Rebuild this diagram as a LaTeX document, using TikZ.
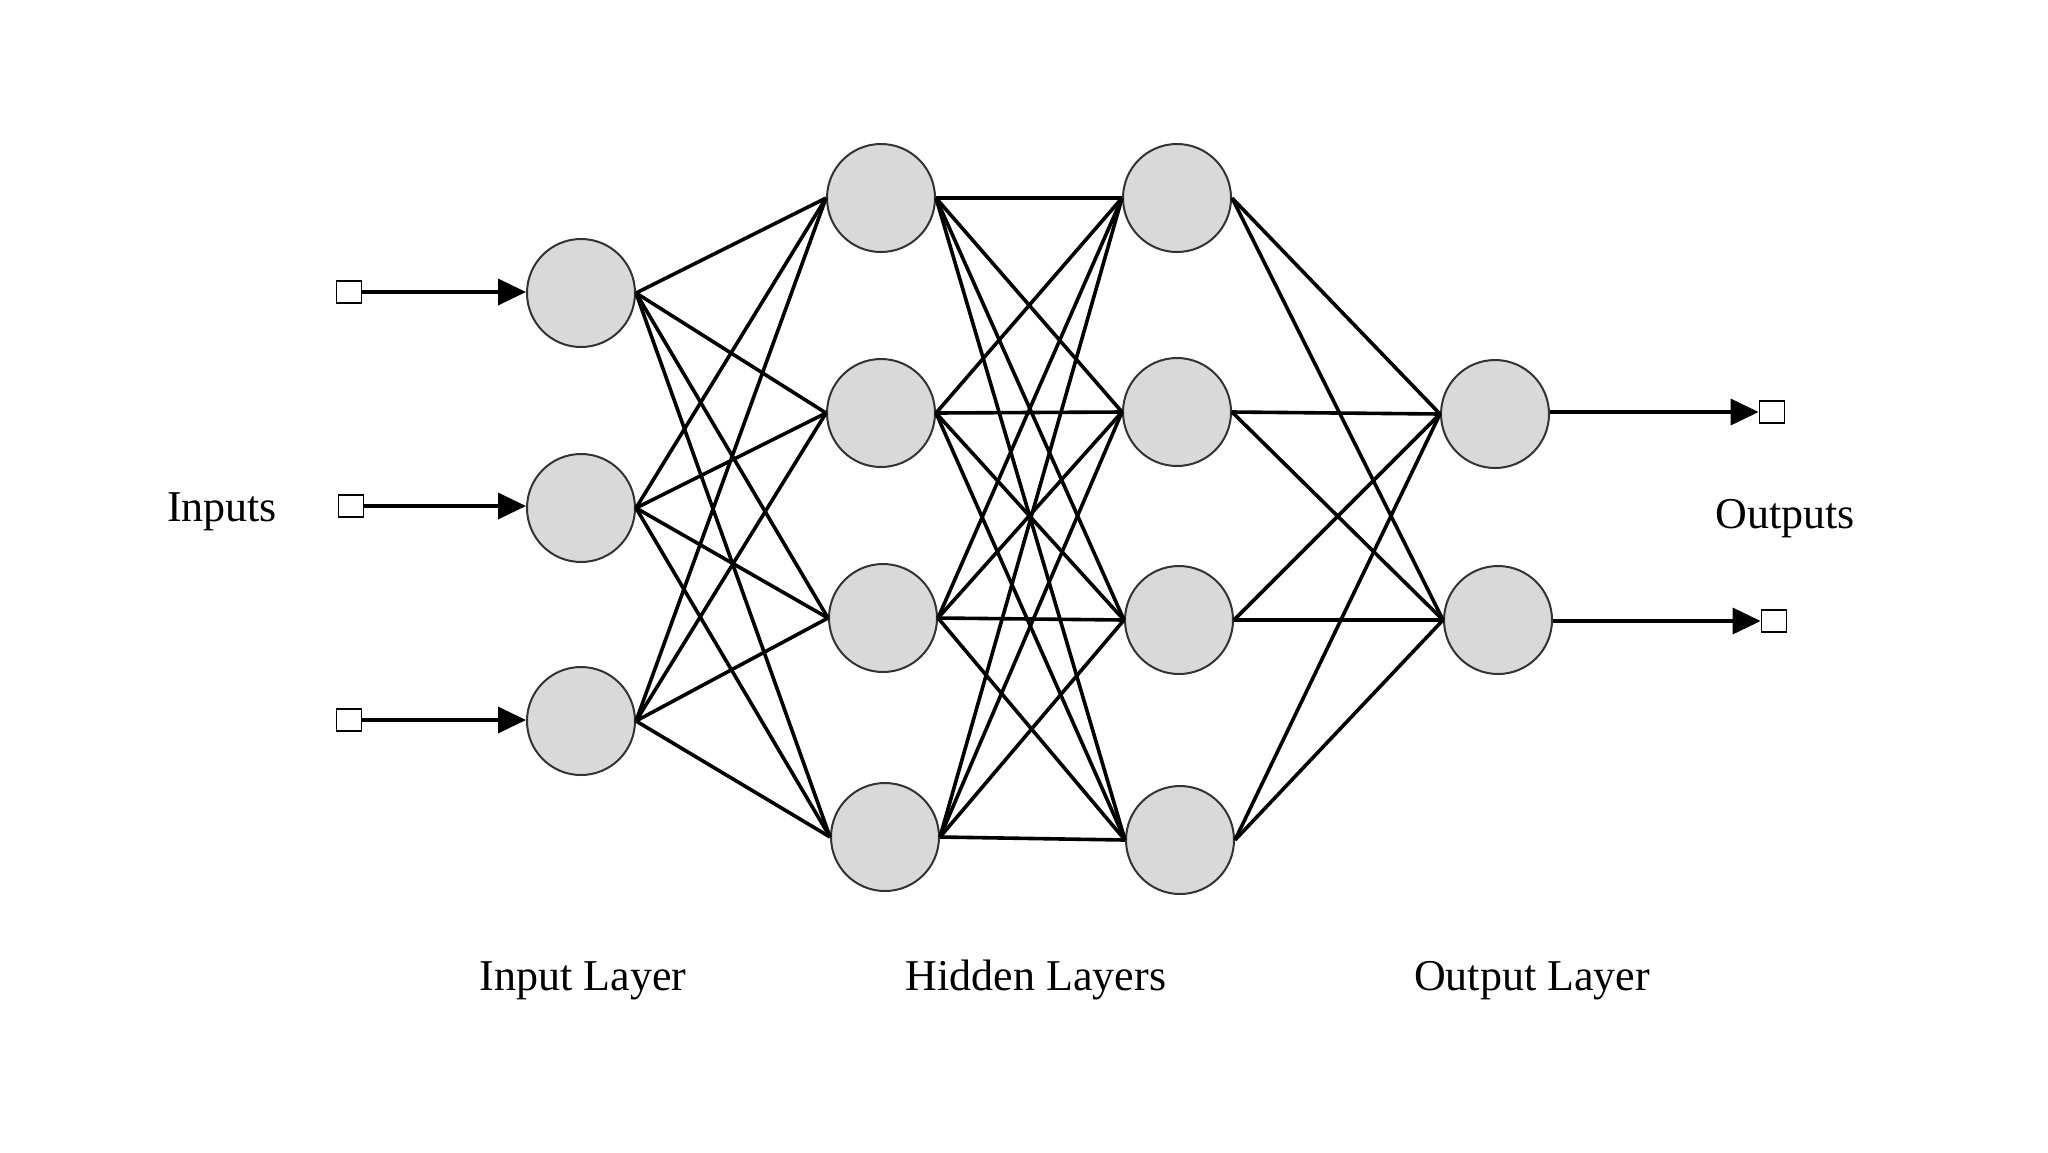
\documentclass[tikz,border=0pt]{standalone}
\usepackage{fontspec}
\setmainfont{Liberation Serif}
\usetikzlibrary{arrows.meta}
\definecolor{nodefill}{HTML}{D9D9D9}
\definecolor{nodeline}{HTML}{333333}
\tikzset{
  neuron/.style={circle, draw=nodeline, line width=1pt, fill=nodefill, minimum size=54pt, inner sep=0pt},
  port/.style={rectangle, draw=black, line width=0.9pt, fill=white, minimum width=12.5pt, minimum height=11pt, inner sep=0pt},
  link/.style={line width=1.8pt, black},
  feed/.style={line width=1.8pt, black, -{Triangle[length=14pt, width=13pt]}},
  lab/.style={anchor=base, inner sep=0pt, font=\fontsize{22}{26}\selectfont}
}
\begin{document}
\begin{tikzpicture}[x=0.5pt, y=-0.5pt]
\useasboundingbox[fill=white] (0,0) rectangle (2048,1152);
% input layer
\node[neuron] (i1) at (581,293) {};
\node[neuron] (i2) at (581,508) {};
\node[neuron] (i3) at (581,721) {};
% hidden layer 1
\node[neuron] (h1) at (881,198) {};
\node[neuron] (h2) at (881,413) {};
\node[neuron] (h3) at (883,618) {};
\node[neuron] (h4) at (885,837) {};
% hidden layer 2
\node[neuron] (g1) at (1177,198) {};
\node[neuron] (g2) at (1177,412) {};
\node[neuron] (g3) at (1179,620) {};
\node[neuron] (g4) at (1180,840) {};
% output layer
\node[neuron] (o1) at (1495,414) {};
\node[neuron] (o2) at (1498,620) {};
% ports
\node[port] (p1) at (349,292) {};
\node[port] (p2) at (351,506) {};
\node[port] (p3) at (349,720) {};
\node[port] (q1) at (1772,412) {};
\node[port] (q2) at (1774,621) {};
% connections
\foreach \a in {i1,i2,i3}
  \foreach \b in {h1,h2,h3,h4}
    \draw[link] (\a.east) -- (\b.west);
\foreach \a in {h1,h2,h3,h4}
  \foreach \b in {g1,g2,g3,g4}
    \draw[link] (\a.east) -- (\b.west);
\foreach \a in {g1,g2,g3,g4}
  \foreach \b in {o1,o2}
    \draw[link] (\a.east) -- (\b.west);
% input / output arrows
\draw[feed] (p1.east) -- (p1.east -| i1.west);
\draw[feed] (p2.east) -- (p2.east -| i2.west);
\draw[feed] (p3.east) -- (p3.east -| i3.west);
\draw[feed] (o1.east |- q1.west) -- (q1.west);
\draw[feed] (o2.east |- q2.west) -- (q2.west);
% labels
\node[lab] (tin) at (222,521) {Inputs};
\node[lab] (tout) at (1785,528) {Outputs};
\node[lab] (til) at (583,990) {Input Layer};
\node[lab] (thl) at (1036,990) {Hidden Layers};
\node[lab] (tol) at (1532,990) {Output Layer};
\end{tikzpicture}
\end{document}
